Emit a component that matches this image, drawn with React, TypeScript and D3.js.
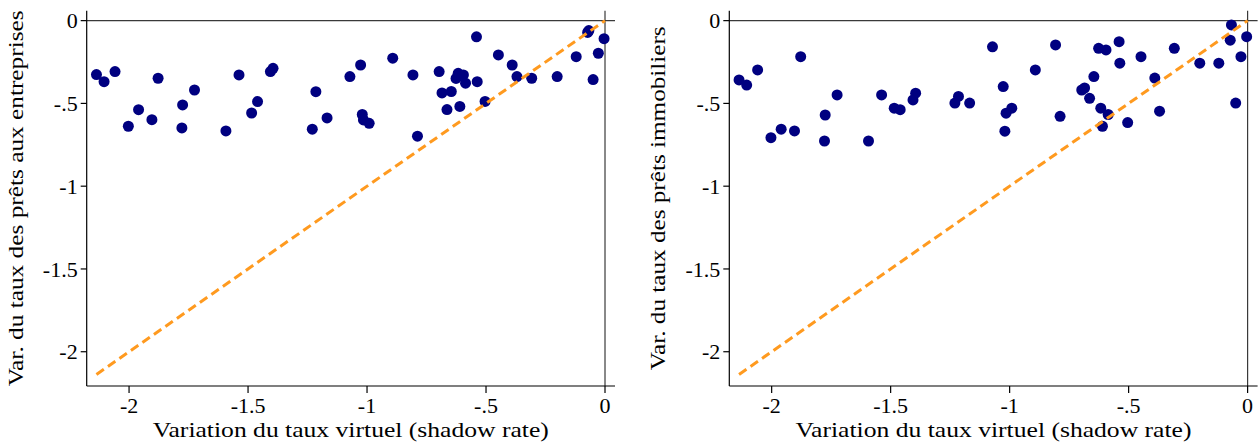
import React from "react";
import * as d3 from "d3";

// Variation du taux virtuel (shadow rate) — shared by both panels
const shadowRate: number[] = [
  -2.137, -2.105, -2.059, -2.003, -1.96, -1.904, -1.878, -1.775, -1.778, -1.725,
  -1.593, -1.538, -1.485, -1.46, -1.406, -1.395, -1.23, -1.215, -1.168, -1.072,
  -1.027, -1.02, -1.015, -0.991, -0.892, -0.807, -0.788, -0.697, -0.685, -0.664,
  -0.646, -0.626, -0.617, -0.61, -0.595, -0.586, -0.54, -0.537, -0.504, -0.448,
  -0.39, -0.37, -0.308, -0.201, -0.121, -0.068, -0.073, -0.05, -0.028, -0.004,
];

// Var. du taux des prêts aux entreprises
const corporateLoans: number[] = [
  -0.326, -0.369, -0.308, -0.638, -0.538, -0.598, -0.348, -0.509, -0.648, -0.419,
  -0.666, -0.328, -0.558, -0.489, -0.308, -0.288, -0.656, -0.429, -0.588, -0.338,
  -0.268, -0.567, -0.6, -0.62, -0.227, -0.328, -0.698, -0.308, -0.437, -0.537,
  -0.428, -0.349, -0.318, -0.518, -0.328, -0.378, -0.098, -0.369, -0.488, -0.207,
  -0.268, -0.338, -0.348, -0.338, -0.218, -0.06, -0.071, -0.356, -0.197, -0.109,
];

// Var. du taux des prêts immobiliers
const mortgageLoans: number[] = [
  -0.358, -0.389, -0.298, -0.707, -0.656, -0.666, -0.218, -0.57, -0.727, -0.449,
  -0.727, -0.449, -0.529, -0.538, -0.479, -0.438, -0.498, -0.458, -0.498, -0.158,
  -0.398, -0.668, -0.559, -0.529, -0.298, -0.147, -0.578, -0.419, -0.407, -0.469,
  -0.338, -0.167, -0.529, -0.638, -0.177, -0.567, -0.127, -0.257, -0.616, -0.218,
  -0.347, -0.547, -0.167, -0.257, -0.257, -0.026, -0.118, -0.498, -0.218, -0.097,
];

const xTicks: number[] = [-2, -1.5, -1, -0.5, 0];
const yTicks: number[] = [-2, -1.5, -1, -0.5, 0];
const xTickLabels: string[] = ["-2", "-1.5", "-1", "-.5", "0"];
const yTickLabels: string[] = ["-2", "-1.5", "-1", "-.5", "0"];

const xTitle = "Variation du taux virtuel (shadow rate)";
const panelTitles: string[] = [
  "Var. du taux des prêts aux entreprises",
  "Var. du taux des prêts immobiliers",
];

const FONT = "'Liberation Serif', 'DejaVu Serif', serif";
const NAVY = "#000080";
const ORANGE = "#ff9a1f";

const X_DOMAIN: [number, number] = [-2.178, 0.042];
const Y_DOMAIN: [number, number] = [-2.207, 0.06];

function Panel({
  left,
  right,
  ys,
  title,
  titleLen,
}: {
  left: number;
  right: number;
  ys: number[];
  title: string;
  titleLen: number;
}) {
  const top = 10.7;
  const bottom = 386;
  const x = d3.scaleLinear().domain(X_DOMAIN).range([left, right]);
  const y = d3.scaleLinear().domain(Y_DOMAIN).range([bottom, top]);
  const pts = shadowRate.map((sx, i) => [sx, ys[i]] as [number, number]);
  const minX = d3.min(shadowRate) as number;
  const line = d3.line<[number, number]>().x((d) => x(d[0])).y((d) => y(d[1]));
  const diag = line([
    [minX, minX],
    [0, 0],
  ]) as string;
  const cx = (left + right) / 2;
  const cy = (top + bottom) / 2;
  return (
    <g>
      {/* reference lines */}
      <line x1={left} x2={right} y1={y(0)} y2={y(0)} stroke="#3a3a3a" strokeWidth={1.2} />
      <line x1={x(0)} x2={x(0)} y1={top} y2={bottom} stroke="#3a3a3a" strokeWidth={1.2} />
      {/* axes */}
      <line x1={left} x2={left} y1={top} y2={bottom} stroke="#000" strokeWidth={1.2} />
      <line x1={left} x2={right} y1={bottom} y2={bottom} stroke="#000" strokeWidth={1.2} />
      {yTicks.map((t, i) => (
        <g key={"y" + i}>
          <line x1={left - 6} x2={left} y1={y(t)} y2={y(t)} stroke="#000" strokeWidth={1.2} />
          <text x={left - 9} y={y(t)} dy="0.35em" textAnchor="end" fontFamily={FONT} fontSize={22} fill="#000">
            {yTickLabels[i]}
          </text>
        </g>
      ))}
      {xTicks.map((t, i) => (
        <g key={"x" + i}>
          <line x1={x(t)} x2={x(t)} y1={bottom} y2={bottom + 7} stroke="#000" strokeWidth={1.2} />
          <text x={x(t)} y={bottom + 27} textAnchor="middle" fontFamily={FONT} fontSize={22} fill="#000">
            {xTickLabels[i]}
          </text>
        </g>
      ))}
      <text
        x={cx}
        y={437}
        textAnchor="middle"
        fontFamily={FONT}
        fontSize={22}
        fill="#000"
        textLength={396}
        lengthAdjust="spacingAndGlyphs"
      >
        {xTitle}
      </text>
      <text
        transform={`translate(${left - 64},${cy}) rotate(-90)`}
        textAnchor="middle"
        fontFamily={FONT}
        fontSize={22}
        fill="#000"
        textLength={titleLen}
        lengthAdjust="spacingAndGlyphs"
      >
        {title}
      </text>
      {pts.map((p, i) => (
        <circle key={i} cx={x(p[0])} cy={y(p[1])} r={5.5} fill={NAVY} />
      ))}
      <path d={diag} fill="none" stroke={ORANGE} strokeWidth={3} strokeDasharray="9 5" />
    </g>
  );
}

export default function App() {
  return (
    <svg
      width={1258}
      height={443}
      style={{ position: "absolute", left: 0, top: 0, background: "#fff" }}
    >
      <rect width={1258} height={443} fill="#fff" />
      <Panel left={86.7} right={615} ys={corporateLoans} title={panelTitles[0]} titleLen={376} />
      <Panel left={729.3} right={1257.6} ys={mortgageLoans} title={panelTitles[1]} titleLen={344} />
    </svg>
  );
}
